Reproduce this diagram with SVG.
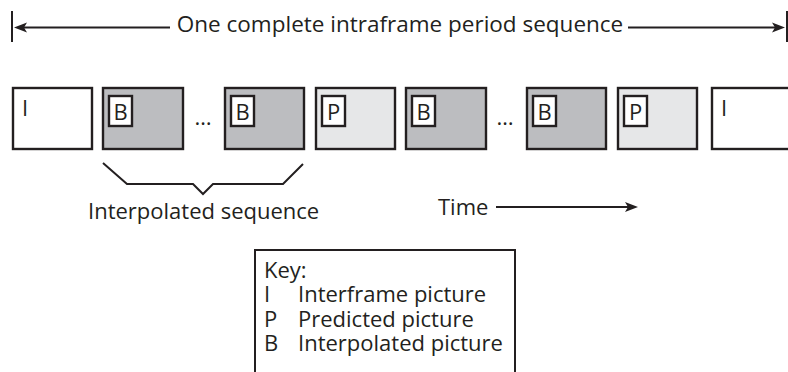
<svg xmlns="http://www.w3.org/2000/svg" width="788" height="372" viewBox="0 0 788 372">
<defs>
<style>
text{font-family:"Open Sans","Noto Sans","DejaVu Sans",sans-serif;fill:#231f20;font-size:22px}
.frame{stroke:#231f20;stroke-width:2.4}
.I{fill:#ffffff}
.B{fill:#bcbdc0}
.P{fill:#e6e7e8}
.tag{fill:#ffffff;stroke:#231f20;stroke-width:2.4}
.ln{stroke:#231f20;stroke-width:2;fill:none}
.ah{fill:#231f20}
</style>
</defs>
<g id="connectors">
<line class="ln" x1="12" y1="11" x2="12" y2="42"/>
<line class="ln" x1="787" y1="11" x2="787" y2="42"/>
<line class="ln" x1="22" y1="27.5" x2="170" y2="27.5"/>
<polygon class="ah" points="14,27.5 27,22.5 24,27.5 27,32.5"/>
<line class="ln" x1="628" y1="27.5" x2="776" y2="27.5"/>
<polygon class="ah" points="785,27.5 772,22.5 775,27.5 772,32.5"/>
<line class="ln" x1="496" y1="207" x2="630" y2="207"/>
<polygon class="ah" points="638,207 625,202 628,207 625,212"/>
<polyline class="ln" points="103,163 127,184 193,184 203,194 213,184 283,184 303,164"/>
</g>
<g id="title"><text x="400" y="32" text-anchor="middle" style="font-size:22.5px">One complete intraframe period sequence</text></g>
<g id="frame1"><rect class="frame I" x="13" y="88" width="79" height="61"/><text x="22" y="116">I</text></g>
<g id="frame2"><rect class="frame B" x="103" y="88" width="80" height="61"/><rect class="tag" x="109" y="96" width="23" height="30"/><text x="120.5" y="120" text-anchor="middle">B</text></g>
<g id="dots1"><text x="203" y="125" text-anchor="middle">…</text></g>
<g id="frame3"><rect class="frame B" x="225" y="88" width="79" height="61"/><rect class="tag" x="231" y="96" width="23" height="30"/><text x="242.5" y="120" text-anchor="middle">B</text></g>
<g id="frame4"><rect class="frame P" x="316" y="88" width="79" height="61"/><rect class="tag" x="322" y="96" width="23" height="30"/><text x="333.5" y="120" text-anchor="middle">P</text></g>
<g id="frame5"><rect class="frame B" x="406" y="88" width="80" height="61"/><rect class="tag" x="412" y="96" width="23" height="30"/><text x="423.5" y="120" text-anchor="middle">B</text></g>
<g id="dots2"><text x="505" y="125" text-anchor="middle">…</text></g>
<g id="frame6"><rect class="frame B" x="527" y="88" width="79" height="61"/><rect class="tag" x="533" y="96" width="23" height="30"/><text x="544.5" y="120" text-anchor="middle">B</text></g>
<g id="frame7"><rect class="frame P" x="618" y="88" width="79" height="61"/><rect class="tag" x="624" y="96" width="23" height="30"/><text x="635.5" y="120" text-anchor="middle">P</text></g>
<g id="frame8"><rect class="frame I" x="712" y="88" width="79" height="61"/><text x="721" y="116">I</text></g>
<g id="interp-label"><text x="88" y="219">Interpolated sequence</text></g>
<g id="time-label"><text x="438" y="215">Time</text></g>
<g id="key">
<rect x="255" y="250" width="260" height="140" fill="#ffffff" stroke="#231f20" stroke-width="2"/>
<text x="264" y="278">Key:</text>
<text x="264" y="302">I</text><text x="298" y="302">Interframe picture</text>
<text x="264" y="327">P</text><text x="298" y="327">Predicted picture</text>
<text x="264" y="351">B</text><text x="298" y="351">Interpolated picture</text>
</g>
</svg>
